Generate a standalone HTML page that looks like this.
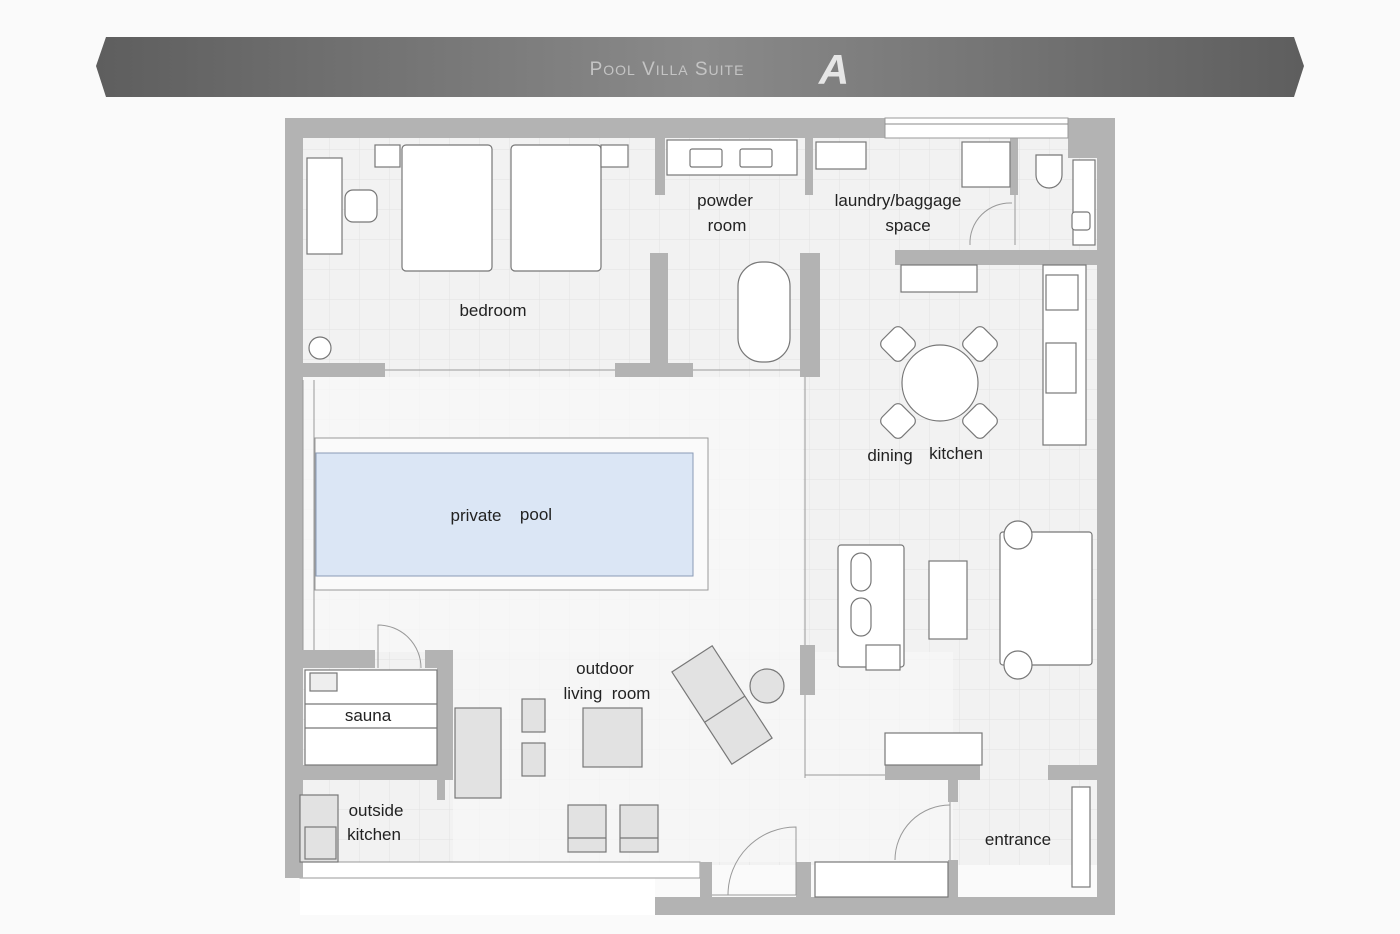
<!DOCTYPE html>
<html><head><meta charset="utf-8"><style>
html,body{margin:0;padding:0;background:#fafafa;}
svg{display:block;font-family:"Liberation Sans",sans-serif;}
</style></head><body>
<svg width="1400" height="934" viewBox="0 0 1400 934" xmlns="http://www.w3.org/2000/svg">
<defs>
<linearGradient id="bar" x1="0" x2="1" y1="0" y2="0">
<stop offset="0" stop-color="#5e5e5e"/><stop offset="0.5" stop-color="#8a8a8a"/><stop offset="1" stop-color="#5e5e5e"/>
</linearGradient>
<pattern id="grid" width="30" height="30" patternUnits="userSpaceOnUse">
<path d="M30 0V30H0" fill="none" stroke="#e2e2e2" stroke-width="1"/>
</pattern>
</defs>
<rect width="1400" height="934" fill="#fafafa"/>
<polygon points="106,37 1294,37 1304,66 1294,97 106,97 96,66" fill="url(#bar)"/>
<text x="667" y="75" text-anchor="middle" font-size="19" fill="#c4c4c4" letter-spacing="1">P<tspan font-size="14">OOL</tspan> V<tspan font-size="14">ILLA</tspan> S<tspan font-size="14">UITE</tspan></text>
<text x="834" y="84" text-anchor="middle" font-size="42" font-weight="bold" font-style="italic" fill="#e6e6e6">A</text>

<rect x="303" y="138" width="794" height="727" fill="#f2f2f2"/>
<rect x="303" y="138" width="794" height="727" fill="url(#grid)"/>
<rect x="303" y="377" width="500" height="275" fill="#f8f8f8" opacity="0.8"/>
<rect x="453" y="652" width="500" height="210" fill="#f8f8f8" opacity="0.7"/>
<rect x="300" y="862" width="355" height="53" fill="#ffffff"/>
<rect x="300" y="862" width="400" height="16" fill="#fff" stroke="#999"/>

<g fill="#b3b3b3">
<rect x="285" y="118" width="600" height="20"/>
<rect x="285" y="118" width="18" height="760"/>
<rect x="1068" y="118" width="47" height="40"/>
<rect x="1097" y="118" width="18" height="797"/>
<rect x="655" y="897" width="460" height="18"/>
<rect x="700" y="862" width="12" height="53"/>
<rect x="285" y="862" width="18" height="16"/>
<rect x="303" y="363" width="82" height="14"/>
<rect x="615" y="363" width="78" height="14"/>
<rect x="650" y="253" width="18" height="124"/>
<rect x="655" y="138" width="10" height="57"/>
<rect x="805" y="138" width="8" height="57"/>
<rect x="800" y="253" width="20" height="124"/>
<rect x="1010" y="135" width="8" height="60"/>
<rect x="895" y="250" width="202" height="15"/>
<rect x="800" y="645" width="15" height="50"/>
<rect x="885" y="765" width="95" height="15"/>
<rect x="1048" y="765" width="49" height="15"/>
<rect x="948" y="780" width="10" height="22"/>
<rect x="948" y="860" width="10" height="37"/>
<rect x="796" y="862" width="15" height="35"/>
<rect x="303" y="650" width="72" height="18"/>
<rect x="425" y="650" width="28" height="18"/>
<rect x="437" y="650" width="16" height="130"/>
<rect x="303" y="765" width="140" height="15"/>
<rect x="437" y="780" width="8" height="20"/>
</g>
<rect x="885" y="118" width="183" height="20" fill="#fff" stroke="#999"/>
<line x1="885" y1="124" x2="1068" y2="124" stroke="#888"/>

<g fill="#fff" stroke="#777" stroke-width="1.2">
<rect x="307" y="158" width="35" height="96"/>
<rect x="345" y="190" width="32" height="32" rx="8"/>
<rect x="375" y="145" width="25" height="22"/>
<rect x="402" y="145" width="90" height="126" rx="4"/>
<rect x="511" y="145" width="90" height="126" rx="4"/>
<rect x="601" y="145" width="27" height="22"/>
<circle cx="320" cy="348" r="11"/>
<rect x="667" y="140" width="130" height="35"/>
<rect x="690" y="149" width="32" height="18" rx="2"/>
<rect x="740" y="149" width="32" height="18" rx="2"/>
<rect x="738" y="262" width="52" height="100" rx="24"/>
<rect x="816" y="142" width="50" height="27"/>
<rect x="962" y="142" width="48" height="45"/>
<path d="M1036 155 h26 v20 a13 13 0 0 1 -26 0z"/>
<rect x="1073" y="160" width="22" height="85"/>
<rect x="1072" y="212" width="18" height="18" rx="3"/>
<rect x="901" y="265" width="76" height="27"/>
<rect x="1043" y="265" width="43" height="180"/>
<rect x="1046" y="275" width="32" height="35"/>
<rect x="1046" y="343" width="30" height="50"/>
<circle cx="940" cy="383" r="38"/>
<rect x="884" y="330" width="28" height="28" rx="6" transform="rotate(-45 898 344)"/>
<rect x="966" y="330" width="28" height="28" rx="6" transform="rotate(45 980 344)"/>
<rect x="884" y="407" width="28" height="28" rx="6" transform="rotate(45 898 421)"/>
<rect x="966" y="407" width="28" height="28" rx="6" transform="rotate(-45 980 421)"/>
<rect x="838" y="545" width="66" height="122" rx="3"/>
<rect x="851" y="553" width="20" height="38" rx="10"/>
<rect x="851" y="598" width="20" height="38" rx="10"/>
<rect x="866" y="645" width="34" height="25"/>
<rect x="929" y="561" width="38" height="78"/>
<rect x="1000" y="532" width="92" height="133" rx="3"/>
<circle cx="1018" cy="535" r="14"/>
<circle cx="1018" cy="665" r="14"/>
<rect x="885" y="733" width="97" height="32"/>
<rect x="1072" y="787" width="18" height="100"/>
<rect x="815" y="862" width="133" height="35"/>
<rect x="305" y="670" width="132" height="95"/>
<line x1="305" y1="704" x2="437" y2="704"/>
<line x1="305" y1="728" x2="437" y2="728"/>
<rect x="310" y="673" width="27" height="18" fill="#eee"/>
</g>
<g fill="#e2e2e2" stroke="#777" stroke-width="1.2">
<rect x="300" y="795" width="38" height="67"/>
<rect x="305" y="827" width="31" height="32"/>
<rect x="455" y="708" width="46" height="90"/>
<rect x="522" y="699" width="23" height="33"/>
<rect x="522" y="743" width="23" height="33"/>
<rect x="583" y="708" width="59" height="59"/>
<rect x="568" y="805" width="38" height="47"/>
<rect x="620" y="805" width="38" height="47"/>
<line x1="568" y1="838" x2="606" y2="838"/><line x1="620" y1="838" x2="658" y2="838"/>
<g transform="rotate(-33 722 705)"><rect x="698" y="650" width="48" height="110"/><line x1="698" y1="710" x2="746" y2="710"/></g>
<circle cx="767" cy="686" r="17"/>
</g>
<rect x="315" y="438" width="393" height="152" fill="#fafafa" stroke="#999"/>
<rect x="316" y="453" width="377" height="123" fill="#dbe6f5" stroke="#8a9bb5"/>
<g stroke="#999" fill="none">
<line x1="385" y1="370" x2="615" y2="370"/><line x1="693" y1="370" x2="800" y2="370"/>
<line x1="805" y1="377" x2="805" y2="645"/><line x1="805" y1="695" x2="805" y2="778"/>
<line x1="805" y1="775" x2="885" y2="775"/>
<line x1="303" y1="380" x2="303" y2="650"/><line x1="314" y1="380" x2="314" y2="650"/>
<path d="M378 668 V625 A43 43 0 0 1 421 668"/>
<path d="M728 895 A68 68 0 0 1 796 827 V895"/>
<line x1="712" y1="895" x2="796" y2="895"/>
<path d="M895 860 A55 55 0 0 1 950 805"/>
<path d="M970 245 A40 40 0 0 1 1012 203"/>
<line x1="950" y1="802" x2="950" y2="860"/>
<line x1="1015" y1="195" x2="1015" y2="245"/>
</g>
<g font-size="17" fill="#222" text-anchor="middle">
<text x="493" y="316">bedroom</text>
<text x="725" y="206">powder</text><text x="727" y="231">room</text>
<text x="898" y="206">laundry/baggage</text><text x="908" y="231">space</text>
<text x="890" y="461">dining</text><text x="956" y="459">kitchen</text>
<text x="476" y="521">private</text><text x="536" y="520">pool</text>
<text x="605" y="674">outdoor</text><text x="607" y="699">living&#160;&#160;room</text>
<text x="368" y="721">sauna</text>
<text x="376" y="816">outside</text><text x="374" y="840">kitchen</text>
<text x="1018" y="845">entrance</text>
</g>
</svg>
</body></html>
